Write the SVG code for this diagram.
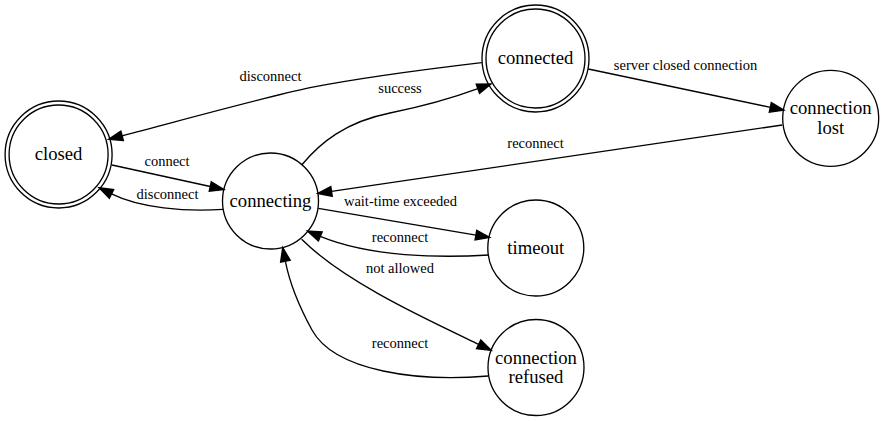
<svg xmlns="http://www.w3.org/2000/svg" width="884" height="421" viewBox="0 0 884 421" font-family="'Liberation Serif', 'Times New Roman', Times, serif">
<style>
.bg{fill:#ffffff}
.node{fill:none;stroke:#000;stroke-width:1.33}
.edge{fill:none;stroke:#000;stroke-width:1.33;marker-end:url(#arrow)}
text{font-family:'Liberation Serif','Times New Roman',Times,serif}
.nl{font-size:18.67px;text-anchor:middle;fill:#000}
.el{font-size:14.5px;text-anchor:middle;fill:#000}
</style>
<defs>
<marker id="arrow" markerUnits="userSpaceOnUse" markerWidth="16" markerHeight="12" viewBox="-1 -1 15.3 11.33" refX="0" refY="4.67" orient="auto" overflow="visible">
<path d="M0,0 L13.3,4.67 L0,9.33 Z" fill="#000" stroke="#000" stroke-width="1.33"/>
</marker>
</defs>
<rect class="bg" x="0" y="0" width="884" height="421"/>
<g id="connectors">
<g id="e-closed-connecting"><path class="edge" d="M112,165 L210.3,186.5"/><text class="el" x="167" y="165.7" font-family="Liberation Serif, serif">connect</text></g>
<g id="e-connecting-closed"><path class="edge" d="M223.3,209.3 C185,212 140,208 111.5,193.9"/><text class="el" x="167.5" y="199.3" font-family="Liberation Serif, serif">disconnect</text></g>
<g id="e-connected-closed"><path class="edge" d="M481.7,62.7 C420,70 360,78 310,87.7 C270,96 190,118 122.1,135.8"/><text class="el" x="270.5" y="80.7" font-family="Liberation Serif, serif">disconnect</text></g>
<g id="e-connecting-connected"><path class="edge" d="M301.9,164.7 C320,143 345,122 390,113 C420,107 450,99 477.9,88.7"/><text class="el" x="400" y="92.7" font-family="Liberation Serif, serif">success</text></g>
<g id="e-connected-lost"><path class="edge" d="M588.3,69 L770.3,107.3"/><text class="el" x="685.5" y="69.5" font-family="Liberation Serif, serif">server closed connection</text></g>
<g id="e-lost-connecting"><path class="edge" d="M782.3,125 L331.5,191.4"/><text class="el" x="535.5" y="148.3" font-family="Liberation Serif, serif">reconnect</text></g>
<g id="e-connecting-timeout"><path class="edge" d="M318.3,208.3 L475.9,235.1"/><text class="el" x="400.5" y="206" font-family="Liberation Serif, serif">wait-time exceeded</text></g>
<g id="e-timeout-connecting"><path class="edge" d="M489,255 C440,258 370,257 320.3,236.4"/><text class="el" x="400" y="241.7" font-family="Liberation Serif, serif">reconnect</text></g>
<g id="e-connecting-refused"><path class="edge" d="M301.7,239.3 C344,281.7 426,319 478.7,344.3"/><text class="el" x="400" y="273.3" font-family="Liberation Serif, serif">not allowed</text></g>
<g id="e-refused-connecting"><path class="edge" d="M488.3,376 C420,382 335,372 312,330 C300,308 290,285 285.4,261.3"/><text class="el" x="400" y="348.3" font-family="Liberation Serif, serif">reconnect</text></g>
</g>
<g id="closed"><circle class="node" cx="58.6" cy="154.5" r="49.5"/><circle class="node" cx="58.6" cy="154.5" r="53.5"/><text class="nl" x="58.6" y="160" font-family="Liberation Serif, serif">closed</text></g>
<g id="connecting"><circle class="node" cx="270.5" cy="201" r="48"/><text class="nl" x="270.5" y="206.5" font-family="Liberation Serif, serif">connecting</text></g>
<g id="connected"><circle class="node" cx="535.5" cy="58.5" r="49.5"/><circle class="node" cx="535.5" cy="58.5" r="53.5"/><text class="nl" x="535.5" y="64" font-family="Liberation Serif, serif">connected</text></g>
<g id="connection-lost"><circle class="node" cx="830.7" cy="118.3" r="48"/><text class="nl" x="830.7" y="114.3" font-family="Liberation Serif, serif">connection</text><text class="nl" x="830.7" y="133.5" font-family="Liberation Serif, serif">lost</text></g>
<g id="timeout"><circle class="node" cx="535.8" cy="248" r="48"/><text class="nl" x="535.8" y="253.5" font-family="Liberation Serif, serif">timeout</text></g>
<g id="connection-refused"><circle class="node" cx="536" cy="367.5" r="48"/><text class="nl" x="536" y="363.5" font-family="Liberation Serif, serif">connection</text><text class="nl" x="536" y="382.7" font-family="Liberation Serif, serif">refused</text></g>
</svg>
